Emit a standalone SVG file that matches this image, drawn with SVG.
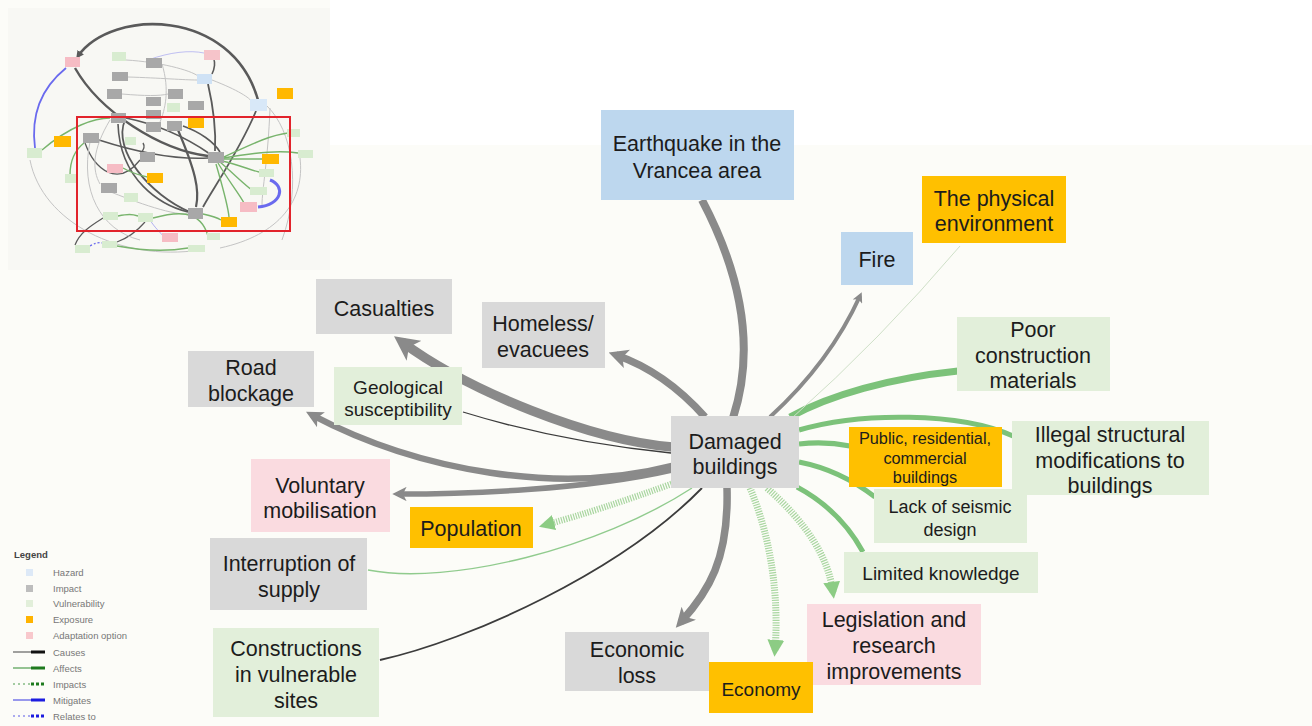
<svg xmlns="http://www.w3.org/2000/svg" width="1312" height="726" viewBox="0 0 1312 726">
  <defs>
    <style>
      .lbl { font-family: "Liberation Sans", Arial, sans-serif; fill: #1c1c1c; text-anchor: middle; }
      .big { font-size: 21.5px; }
      .mid { font-size: 19px; }
      .sm { font-size: 16.3px; }
      .hazard { fill: #bdd7ee; }
      .impact { fill: #d9d9d9; }
      .vuln { fill: #e2efda; }
      .expo { fill: #ffc000; }
      .adapt { fill: #fadbe0; }
      .cause { fill: none; stroke: #8a8a8a; stroke-linecap: butt; }
      .thin-cause { fill: none; stroke: #3c3c3c; }
      .affect { fill: none; stroke: #7cc27a; }
      .impacts { fill: none; stroke: #a9d6a0; stroke-dasharray: 1.2 1.3; }
      .leg { font-family: "Liberation Sans", Arial, sans-serif; font-size: 9.5px; fill: #777; }
      .mini-d { fill: none; stroke: #5a5a5a; }
      .mini-l { fill: none; stroke: #c4c4c4; stroke-width: 1; }
      .mini-g { fill: none; stroke: #78b46c; stroke-width: 1.4; }
      .mini-b { fill: none; stroke: #6a6aee; }
    </style>
    <marker id="arrGrey" viewBox="0 0 10 10" refX="6" refY="5" markerWidth="2.6" markerHeight="2.6" orient="auto" markerUnits="strokeWidth">
      <path d="M0,0 L10,5 L0,10 L2.5,5 z" fill="#8a8a8a"/>
    </marker>
    <marker id="arrGreen" viewBox="0 0 10 10" refX="6" refY="5" markerWidth="2.4" markerHeight="2.4" orient="auto" markerUnits="strokeWidth">
      <path d="M0,0 L10,5 L0,10 z" fill="#8ccc84"/>
    </marker>
    <marker id="arrMini" viewBox="0 0 10 10" refX="6" refY="5" markerWidth="3" markerHeight="3" orient="auto" markerUnits="strokeWidth">
      <path d="M0,0 L10,5 L0,10 z" fill="#5a5a5a"/>
    </marker>
  </defs>

  <!-- canvas -->
  <rect x="0" y="0" width="1312" height="726" fill="#fcfcf8"/>
  <rect x="330" y="0" width="982" height="145" fill="#ffffff"/>

  <!-- overview inset -->
  <g id="overview">
    <rect x="8" y="8" width="322" height="262" fill="#f8f8f4"/>
    <g id="overview-links">
      <path class="mini-d" stroke-width="2.6" d="M258 100 C232 8 112 8 78 56" marker-end="url(#arrMini)"/>
      <path class="mini-d" stroke-width="2.4" d="M75 68 C100 112 160 150 208 156"/>
      <path class="mini-d" stroke-width="1.8" d="M125 120 C112 150 150 195 190 212"/>
      <path class="mini-d" stroke-width="1.6" d="M118 124 C120 180 160 205 188 212"/>
      <path class="mini-d" stroke-width="2.2" d="M178 130 C195 170 200 190 196 207"/>
      <path class="mini-d" stroke-width="1.8" d="M256 111 C240 150 212 190 203 207"/>
      <path class="mini-d" stroke-width="1.8" d="M208 84 C214 110 216 132 215 151"/>
      <path class="mini-d" stroke-width="1.6" d="M99 140 C130 150 170 160 208 158"/>
      <path class="mini-d" stroke-width="1.6" d="M126 118 C160 125 190 140 210 154"/>
      <path class="mini-d" stroke-width="1.6" d="M183 126 C200 132 214 142 220 152"/>
      <path class="mini-d" stroke-width="1.6" d="M212 74 C215 68 215 62 214 60"/>
      <path class="mini-d" stroke-width="1.3" d="M85 143 C95 170 118 188 140 160"/>
      <path class="mini-d" stroke-width="1.2" d="M75 245 C80 232 92 225 103 218"/>
      <path class="mini-d" stroke-width="1.2" d="M117 242 C128 238 138 230 145 222"/>
      <path class="mini-d" stroke-width="1.4" d="M140 154 C144 150 145 146 143 143"/>
      <path class="mini-l" d="M126 60 C160 62 190 70 198 76"/>
      <path class="mini-l" d="M128 77 C160 78 185 80 197 80"/>
      <path class="mini-l" d="M122 94 C145 96 160 96 168 94"/>
      <path class="mini-l" d="M212 80 C238 90 250 98 252 102"/>
      <path class="mini-l" d="M267 106 C292 130 302 185 282 240"/>
      <path class="mini-l" d="M30 160 C42 222 120 262 200 250"/>
      <path class="mini-l" d="M90 142 C80 190 100 230 140 240"/>
      <path class="mini-l" d="M162 64 C170 90 165 110 160 122"/>
      <path class="mini-l" d="M101 188 C130 200 170 215 188 214"/>
      <path class="mini-l" d="M300 158 C305 200 280 235 220 248"/>
      <path class="mini-l" d="M110 120 C92 150 92 170 100 184"/>
      <path class="mini-l" d="M270 108 C268 160 262 190 262 205"/>
      <path class="mini-g" d="M224 157 C250 145 270 135 288 133"/>
      <path class="mini-g" d="M224 158 C262 151 285 151 298 153"/>
      <path class="mini-g" d="M224 159 L262 159"/>
      <path class="mini-g" d="M222 161 C240 165 250 170 259 172"/>
      <path class="mini-g" d="M220 162 C235 175 245 185 252 190"/>
      <path class="mini-g" d="M218 163 C228 180 240 195 244 203"/>
      <path class="mini-g" d="M216 164 C222 185 228 205 229 217"/>
      <path class="mini-g" d="M42 150 C70 126 95 118 110 118"/>
      <path class="mini-g" d="M70 175 C70 160 75 150 84 143"/>
      <path class="mini-g" d="M123 168 C135 175 145 176 147 177"/>
      <path class="mini-g" d="M117 246 C150 252 170 251 188 248"/>
      <path class="mini-g" d="M203 214 C212 216 218 218 221 220"/>
      <path class="mini-g" d="M153 218 C175 212 200 208 208 236"/>
      <path class="mini-g" d="M118 216 C128 214 132 214 138 216"/>
      <path class="mini-b" stroke-width="1.8" d="M35 148 C30 110 45 85 66 68"/>
      <path class="mini-b" stroke-width="3" d="M270 180 C286 186 282 205 258 207"/>
      <path class="mini-b" stroke-width="1.2" stroke-dasharray="2 2" d="M90 246 C95 243 99 242 102 243"/>
      <path class="mini-b" stroke-width="1" stroke-opacity="0.4" d="M148 60 C170 52 190 50 204 53"/>
      <path class="mini-b" stroke-width="1" stroke-opacity="0.5" d="M150 220 C155 228 160 232 163 236"/>
    </g>
    <g id="overview-nodes">
      <rect x="65" y="57" width="15" height="10" fill="#f6bcc4"/>
      <rect x="112" y="52" width="14" height="9" fill="#d8ecd0"/>
      <rect x="146" y="58" width="16" height="10" fill="#a8a8a8"/>
      <rect x="204" y="50" width="16" height="10" fill="#f6c4ca"/>
      <rect x="112" y="72" width="16" height="9" fill="#a8a8a8"/>
      <rect x="197" y="74" width="15" height="10" fill="#cfe2f5"/>
      <rect x="107" y="89" width="15" height="10" fill="#a8a8a8"/>
      <rect x="146" y="97" width="15" height="9" fill="#a8a8a8"/>
      <rect x="168" y="89" width="15" height="10" fill="#a8a8a8"/>
      <rect x="167" y="103" width="13" height="9" fill="#d8ecd0"/>
      <rect x="188" y="101" width="16" height="9" fill="#a8a8a8"/>
      <rect x="277" y="88" width="16" height="11" fill="#ffb800"/>
      <rect x="250" y="99" width="17" height="12" fill="#d8e8f8"/>
      <rect x="111" y="113" width="15" height="10" fill="#a8a8a8"/>
      <rect x="146" y="110" width="15" height="9" fill="#a8a8a8"/>
      <rect x="146" y="122" width="15" height="10" fill="#a8a8a8"/>
      <rect x="167" y="121" width="15" height="10" fill="#a8a8a8"/>
      <rect x="188" y="118" width="16" height="10" fill="#ffb800"/>
      <rect x="83" y="133" width="16" height="10" fill="#a8a8a8"/>
      <rect x="54" y="136" width="17" height="11" fill="#ffb800"/>
      <rect x="27" y="148" width="15" height="10" fill="#d8ecd0"/>
      <rect x="125" y="137" width="11" height="8" fill="#d8ecd0"/>
      <rect x="140" y="152" width="15" height="10" fill="#a8a8a8"/>
      <rect x="208" y="152" width="16" height="11" fill="#a8a8a8"/>
      <rect x="262" y="154" width="17" height="10" fill="#ffb800"/>
      <rect x="287" y="129" width="13" height="8" fill="#d8ecd0"/>
      <rect x="298" y="150" width="15" height="8" fill="#d8ecd0"/>
      <rect x="107" y="164" width="16" height="9" fill="#f6bcc4"/>
      <rect x="147" y="173" width="16" height="10" fill="#ffb800"/>
      <rect x="65" y="174" width="13" height="9" fill="#d8ecd0"/>
      <rect x="259" y="169" width="15" height="8" fill="#d8ecd0"/>
      <rect x="250" y="187" width="17" height="8" fill="#d8ecd0"/>
      <rect x="101" y="183" width="16" height="10" fill="#a8a8a8"/>
      <rect x="124" y="193" width="14" height="9" fill="#d8ecd0"/>
      <rect x="240" y="202" width="17" height="10" fill="#f6bcc4"/>
      <rect x="188" y="208" width="15" height="11" fill="#a8a8a8"/>
      <rect x="221" y="217" width="16" height="10" fill="#ffb800"/>
      <rect x="103" y="212" width="15" height="8" fill="#d8ecd0"/>
      <rect x="138" y="213" width="15" height="9" fill="#d8ecd0"/>
      <rect x="162" y="233" width="16" height="9" fill="#f6bcc4"/>
      <rect x="207" y="233" width="13" height="7" fill="#d8ecd0"/>
      <rect x="75" y="245" width="15" height="8" fill="#d8ecd0"/>
      <rect x="102" y="241" width="15" height="7" fill="#d8ecd0"/>
      <rect x="188" y="245" width="17" height="7" fill="#d8ecd0"/>
    </g>
    <rect x="77" y="117" width="213" height="114" fill="none" stroke="#e2232b" stroke-width="2"/>
  </g>

  <!-- connectors -->
  <g id="connectors">
    <path class="cause" stroke-width="8" d="M702 200 Q765 320 733 418"/>
    <path class="cause" stroke-width="7.5" d="M705 417 Q665 372 616 355" marker-end="url(#arrGrey)"/>
    <path class="cause" stroke-width="9.5" d="M672 447 C590 440 470 392 402 342" marker-end="url(#arrGrey)"/>
    <path class="thin-cause" stroke-width="1.3" d="M463 412 Q560 442 671 453"/>
    <path class="cause" stroke-width="6.5" d="M672 466 C560 495 420 472 312 415" marker-end="url(#arrGrey)"/>
    <path class="cause" stroke-width="5.5" d="M672 470 C585 490 465 494 398 494" marker-end="url(#arrGrey)"/>
    <path class="impacts" stroke-width="6.5" d="M674 483 Q600 510 545 525" marker-end="url(#arrGreen)"/>
    <path class="affect" stroke-width="1.4" stroke-opacity="0.85" d="M368 570 C450 586 600 548 692 488"/>
    <path class="thin-cause" stroke-width="1.8" d="M380 660 C470 640 620 572 702 488"/>
    <path class="cause" stroke-width="7.5" d="M727 488 C729 560 708 592 681 622" marker-end="url(#arrGrey)"/>
    <path class="impacts" stroke-width="7" d="M750 488 C772 540 779 600 775 650" marker-end="url(#arrGreen)"/>
    <path class="impacts" stroke-width="7" d="M767 488 Q826 540 833 592" marker-end="url(#arrGreen)"/>
    <path class="affect" stroke-width="5" d="M863 552 Q840 510 797 487"/>
    <path class="affect" stroke-width="5" d="M875 497 Q840 470 799 462"/>
    <path class="affect" stroke-width="5" d="M850 446 Q825 441 799 444"/>
    <path class="affect" stroke-width="5" d="M1013 436 C960 412 860 412 799 430"/>
    <path class="affect" stroke-width="7" d="M958 371 C890 378 830 395 790 417"/>
    <path fill="none" stroke="#cfe0c8" stroke-width="1" d="M792 418 Q880 340 960 246"/>
    <path class="cause" stroke-width="4" d="M770 417 Q830 362 860 296" marker-end="url(#arrGrey)"/>
  </g>

  <!-- nodes -->
  <g id="n-earthquake">
    <rect class="hazard" x="601" y="110" width="193" height="90"/>
    <text class="lbl big" x="697" y="150.5">Earthquake in the</text>
    <text class="lbl big" x="697" y="177.5">Vrancea area</text>
  </g>
  <g id="n-physical-env">
    <rect class="expo" x="922" y="176" width="144" height="67"/>
    <text class="lbl big" x="994" y="205.5">The physical</text>
    <text class="lbl big" x="994" y="231">environment</text>
  </g>
  <g id="n-fire">
    <rect class="hazard" x="841" y="232" width="72" height="53"/>
    <text class="lbl big" x="877" y="266.5">Fire</text>
  </g>
  <g id="n-poor-materials">
    <rect class="vuln" x="957" y="317" width="153" height="74"/>
    <text class="lbl big" x="1033" y="336.5">Poor</text>
    <text class="lbl big" x="1033" y="362.5">construction</text>
    <text class="lbl big" x="1033" y="388">materials</text>
  </g>
  <g id="n-casualties">
    <rect class="impact" x="316" y="279" width="136" height="55"/>
    <text class="lbl big" x="384" y="315.5">Casualties</text>
  </g>
  <g id="n-homeless">
    <rect class="impact" x="482" y="302" width="123" height="66"/>
    <text class="lbl big" x="543" y="330.5">Homeless/</text>
    <text class="lbl big" x="543" y="357">evacuees</text>
  </g>
  <g id="n-road">
    <rect class="impact" x="188" y="351" width="126" height="56"/>
    <text class="lbl big" x="251" y="374.5">Road</text>
    <text class="lbl big" x="251" y="400.5">blockage</text>
  </g>
  <g id="n-geological">
    <rect class="vuln" x="334" y="367" width="128" height="58"/>
    <text class="lbl mid" x="398" y="393.5">Geological</text>
    <text class="lbl mid" x="398" y="415.5">susceptibility</text>
  </g>
  <g id="n-damaged">
    <rect class="impact" x="671" y="416" width="128" height="72"/>
    <text class="lbl big" x="735" y="448.5">Damaged</text>
    <text class="lbl big" x="735" y="474">buildings</text>
  </g>
  <g id="n-public-buildings">
    <rect class="expo" x="849" y="427" width="153" height="60"/>
    <text class="lbl sm" x="925" y="443.5">Public, residential,</text>
    <text class="lbl sm" x="925" y="463.5">commercial</text>
    <text class="lbl sm" x="925" y="482.5">buildings</text>
  </g>
  <g id="n-illegal-mods">
    <rect class="vuln" x="1012" y="421" width="197" height="74"/>
    <text class="lbl big" x="1110" y="441.5">Illegal structural</text>
    <text class="lbl big" x="1110" y="467.5">modifications to</text>
    <text class="lbl big" x="1110" y="492.5">buildings</text>
  </g>
  <g id="n-seismic-design">
    <rect class="vuln" x="874" y="489" width="153" height="54"/>
    <text class="lbl" style="font-size:18px" x="950" y="513">Lack of seismic</text>
    <text class="lbl" style="font-size:18px" x="950" y="535.5">design</text>
  </g>
  <g id="n-limited-knowledge">
    <rect class="vuln" x="844" y="552" width="194" height="41"/>
    <text class="lbl mid" x="941" y="579.5">Limited knowledge</text>
  </g>
  <g id="n-voluntary">
    <rect class="adapt" x="251" y="459" width="139" height="73"/>
    <text class="lbl big" x="320" y="492.5">Voluntary</text>
    <text class="lbl big" x="320" y="517.5">mobilisation</text>
  </g>
  <g id="n-population">
    <rect class="expo" x="410" y="507" width="123" height="41"/>
    <text class="lbl big" x="471" y="535.5">Population</text>
  </g>
  <g id="n-supply">
    <rect class="impact" x="210" y="538" width="157" height="72"/>
    <text class="lbl big" x="289" y="570.5">Interruption of</text>
    <text class="lbl big" x="289" y="596.5">supply</text>
  </g>
  <g id="n-vulnerable-sites">
    <rect class="vuln" x="213" y="628" width="166" height="89"/>
    <text class="lbl big" x="296" y="655.5">Constructions</text>
    <text class="lbl big" x="296" y="681.5">in vulnerable</text>
    <text class="lbl big" x="296" y="707.5">sites</text>
  </g>
  <g id="n-economic-loss">
    <rect class="impact" x="565" y="632" width="144" height="59"/>
    <text class="lbl big" x="637" y="656.5">Economic</text>
    <text class="lbl big" x="637" y="682.5">loss</text>
  </g>
  <g id="n-legislation">
    <rect class="adapt" x="807" y="604" width="174" height="81"/>
    <text class="lbl big" x="894" y="626.5">Legislation and</text>
    <text class="lbl big" x="894" y="652.5">research</text>
    <text class="lbl big" x="894" y="678.5">improvements</text>
  </g>
  <g id="n-economy">
    <rect class="expo" x="709" y="662" width="104" height="51"/>
    <text class="lbl mid" x="761" y="695.5">Economy</text>
  </g>

  <!-- legend -->
  <g id="legend">
    <text x="14" y="558" font-family="Liberation Sans, Arial, sans-serif" font-size="9.5" font-weight="bold" fill="#444">Legend</text>
    <rect x="26" y="569" width="7" height="7" fill="#dde9f7"/>
    <text class="leg" x="53" y="575.5">Hazard</text>
    <rect x="26" y="585" width="7" height="7" fill="#bdbdbd"/>
    <text class="leg" x="53" y="591.5">Impact</text>
    <rect x="26" y="600" width="7" height="7" fill="#e2efda"/>
    <text class="leg" x="53" y="606.5">Vulnerability</text>
    <rect x="26" y="616" width="7" height="7" fill="#ffb300"/>
    <text class="leg" x="53" y="623">Exposure</text>
    <rect x="26" y="632" width="7" height="7" fill="#f8c8cc"/>
    <text class="leg" x="53" y="639">Adaptation option</text>
    <path d="M13 652 H31" stroke="#444" stroke-width="1"/>
    <path d="M31 652 H45" stroke="#111" stroke-width="3"/>
    <text class="leg" x="53" y="655.5">Causes</text>
    <path d="M13 668 H31" stroke="#2e8b2e" stroke-width="1"/>
    <path d="M31 668 H45" stroke="#1e7a1e" stroke-width="3"/>
    <text class="leg" x="53" y="671.5">Affects</text>
    <path d="M13 684 H31" stroke="#4a9a4a" stroke-width="1" stroke-dasharray="2 3"/>
    <path d="M31 684 H45" stroke="#1e7a1e" stroke-width="3" stroke-dasharray="3 2"/>
    <text class="leg" x="53" y="687.5">Impacts</text>
    <path d="M13 700 H31" stroke="#3434e0" stroke-width="1"/>
    <path d="M31 700 H45" stroke="#1c1ce0" stroke-width="3"/>
    <text class="leg" x="53" y="703.5">Mitigates</text>
    <path d="M13 716 H31" stroke="#5a5ae6" stroke-width="1" stroke-dasharray="2 3"/>
    <path d="M31 716 H45" stroke="#1c1ce0" stroke-width="3" stroke-dasharray="3 2"/>
    <text class="leg" x="53" y="719.5">Relates to</text>
  </g>
</svg>
